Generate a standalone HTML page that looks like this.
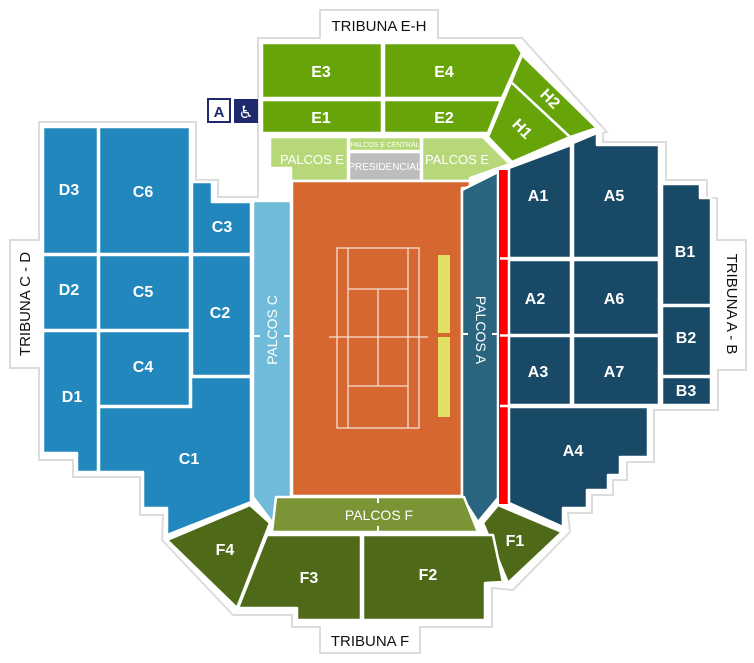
<!DOCTYPE html>
<html><head><meta charset="utf-8"><style>
html,body{margin:0;padding:0;background:#fff;}
svg{display:block}
text{font-family:"Liberation Sans",sans-serif;}
.l{fill:#fff;font-weight:bold;font-size:16px;text-anchor:middle;}
.p{fill:#fff;font-size:14px;text-anchor:middle;}
.t{fill:#111;font-size:15px;text-anchor:middle;}
</style></head><body>
<svg width="754" height="663" viewBox="0 0 754 663" xmlns="http://www.w3.org/2000/svg">
<polygon fill="#fff" stroke="#dcdcdc" stroke-width="2" points="258,38 320,38 320,10 438,10 438,38 522,38 607,132 603,133 603,142 666,142 666,180 707,180 707,198 717,198 717,240 746,240 746,370 718,370 718,410 654,410 654,462 627,462 627,480 613,480 613,495 592,495 592,513 568,513 570,532 513,590 492,588 492,627 420,627 420,653 320,653 320,627 292,627 292,615 233,615 162,540 163,515 140,515 140,477 73,477 73,460 39,460 39,368 10,368 10,240 39,240 39,122 196,122 196,180 218,180 218,197 258,197 258,130"/>
<g stroke="#fff" stroke-width="2.5" stroke-linejoin="round">
<g fill="#67a40a">
<rect x="262" y="43" width="120" height="55"/>
<polygon points="384,43 515,43 522,53 502,98 384,98"/>
<rect x="262" y="100" width="120" height="33"/>
<polygon points="384,100 501,100 488,133 384,133"/>
<polygon points="522,55 597,128 570,137 511,82"/>
<polygon points="511,82 570,137 512,162 488,137"/>
</g>
<g fill="#b6d878">
<polygon points="270,137 348,137 348,181 291,181 291,168 270,168"/>
<polygon points="422,137 483,137 510,164 470,178 470,181 422,181"/>
<rect x="349" y="137" width="72" height="14"/>
</g>
<rect x="349" y="152" width="72" height="29" fill="#bdbdbd"/>
<polygon fill="#d66731" points="292,181 470,181 470,188 462,188 462,496 292,496"/>
<polygon fill="#6fbbd9" points="253,201 291,201 291,497 272,522 253,497"/>
<polygon fill="#2a6580" points="462,190 498,172 498,498 478,522 462,497"/>
<polygon fill="#7a9436" points="276,497 464,497 478,532 272,532"/>
<g fill="#2187bd">
<rect x="43" y="127" width="55" height="127"/>
<rect x="99" y="127" width="91" height="127"/>
<polygon points="192,182 212,182 212,202 251,202 251,254 192,254"/>
<rect x="43" y="255" width="55" height="75"/>
<rect x="99" y="255" width="91" height="75"/>
<rect x="192" y="255" width="59" height="121"/>
<polygon points="43,331 98,331 98,472 77,472 77,453 43,453"/>
<rect x="99" y="331" width="91" height="75"/>
<polygon points="99,407 191,407 191,377 251,377 251,502 167,535 167,508 143,508 143,472 99,472"/>
</g>
<rect x="499" y="170" width="9" height="334" fill="#ff0000" stroke="none"/>
<g fill="#184966">
<polygon points="509,168 571,145 571,258 509,258"/>
<polygon points="573,143 597,133 597,145 659,145 659,258 573,258"/>
<rect x="509" y="260" width="62" height="75"/>
<rect x="573" y="260" width="86" height="75"/>
<rect x="509" y="336" width="62" height="69"/>
<rect x="573" y="336" width="86" height="69"/>
<polygon points="662,184 700,184 700,198 711,198 711,305 662,305"/>
<rect x="662" y="306" width="49" height="70"/>
<rect x="662" y="377" width="49" height="28"/>
<polygon points="509,407 648,407 648,457 620,457 620,475 608,475 608,490 587,490 587,508 563,508 563,527 509,503"/>
</g>
<line x1="509" y1="258.5" x2="500" y2="258.5"/><line x1="509" y1="335.5" x2="500" y2="335.5"/><line x1="509" y1="406" x2="500" y2="406"/>
<g fill="#4e6a18">
<polygon points="498,505 562,532 508,583 483,523"/>
<polygon points="363,535 493,535 503,582 485,583 485,620 363,620"/>
<polygon points="267,535 361,535 361,620 297,620 297,608 238,608"/>
<polygon points="167,540 250,505 270,523 237,608"/>
</g>
</g>
<g stroke="#f6e0d2" stroke-width="1.3" fill="none">
<rect x="337" y="248" width="82" height="180"/>
<line x1="348" y1="248" x2="348" y2="428"/><line x1="408" y1="248" x2="408" y2="428"/>
<line x1="348" y1="289" x2="408" y2="289"/><line x1="348" y1="386" x2="408" y2="386"/>
<line x1="378" y1="289" x2="378" y2="386"/>
<line x1="329" y1="337" x2="428" y2="337"/>
</g>
<rect x="438" y="255" width="12" height="78" fill="#dfe064"/>
<rect x="438" y="337" width="12" height="80" fill="#dfe064"/>
<g stroke="#fff" stroke-width="2">
<line x1="253" y1="336" x2="260" y2="336"/><line x1="284" y1="336" x2="292" y2="336"/>
<line x1="462" y1="334" x2="468" y2="334"/><line x1="492" y1="334" x2="498" y2="334"/>
<line x1="378" y1="497" x2="378" y2="503"/><line x1="378" y1="526" x2="378" y2="532"/>
</g>
<rect x="208" y="99" width="22" height="23" fill="#fff" stroke="#1f2a6e" stroke-width="2"/>
<text x="219" y="117" style="fill:#1f2a6e;font-weight:bold;font-size:15px;text-anchor:middle">A</text>
<rect x="234" y="99" width="24" height="24" fill="#1f2a6e"/>
<text x="246" y="118" style="fill:#fff;font-size:17px;text-anchor:middle;font-family:'DejaVu Sans',sans-serif">♿</text>
<text class="l" x="321" y="77">E3</text><text class="l" x="444" y="77">E4</text>
<text class="l" x="321" y="123">E1</text><text class="l" x="444" y="123">E2</text>
<text class="l" x="550" y="104" transform="rotate(45 550 99)">H2</text>
<text class="l" x="522" y="134" transform="rotate(45 522 129)">H1</text>
<text class="p" x="312" y="164" style="font-size:13px">PALCOS E</text><text class="p" x="457" y="164" style="font-size:13px">PALCOS E</text>
<text x="385" y="147" style="fill:#fff;font-size:7px;text-anchor:middle">PALCOS E CENTRAL</text>
<text x="385" y="170" style="fill:#fff;font-size:10px;text-anchor:middle">PRESIDENCIAL</text>
<text class="l" x="69" y="195">D3</text><text class="l" x="143" y="197">C6</text><text class="l" x="222" y="232">C3</text>
<text class="l" x="69" y="295">D2</text><text class="l" x="143" y="297">C5</text><text class="l" x="220" y="318">C2</text>
<text class="l" x="72" y="402">D1</text><text class="l" x="143" y="372">C4</text><text class="l" x="189" y="464">C1</text>
<text class="p" x="277" y="330" transform="rotate(-90 277 330)">PALCOS C</text>
<text class="p" x="476" y="330" transform="rotate(90 476 330)">PALCOS A</text>
<text class="l" x="538" y="201">A1</text><text class="l" x="614" y="201">A5</text><text class="l" x="685" y="257">B1</text>
<text class="l" x="535" y="304">A2</text><text class="l" x="614" y="304">A6</text><text class="l" x="686" y="343">B2</text>
<text class="l" x="538" y="377">A3</text><text class="l" x="614" y="377">A7</text><text class="l" x="686" y="396">B3</text>
<text class="l" x="573" y="456">A4</text>
<text class="p" x="379" y="520">PALCOS F</text>
<text class="l" x="515" y="546">F1</text><text class="l" x="428" y="580">F2</text>
<text class="l" x="309" y="583">F3</text><text class="l" x="225" y="555">F4</text>
<text class="t" x="379" y="31">TRIBUNA E-H</text>
<text class="t" x="370" y="646">TRIBUNA F</text>
<text class="t" x="30" y="304" transform="rotate(-90 30 304)">TRIBUNA C - D</text>
<text class="t" x="727" y="304" transform="rotate(90 727 304)">TRIBUNA  A - B</text>
</svg>
</body></html>
